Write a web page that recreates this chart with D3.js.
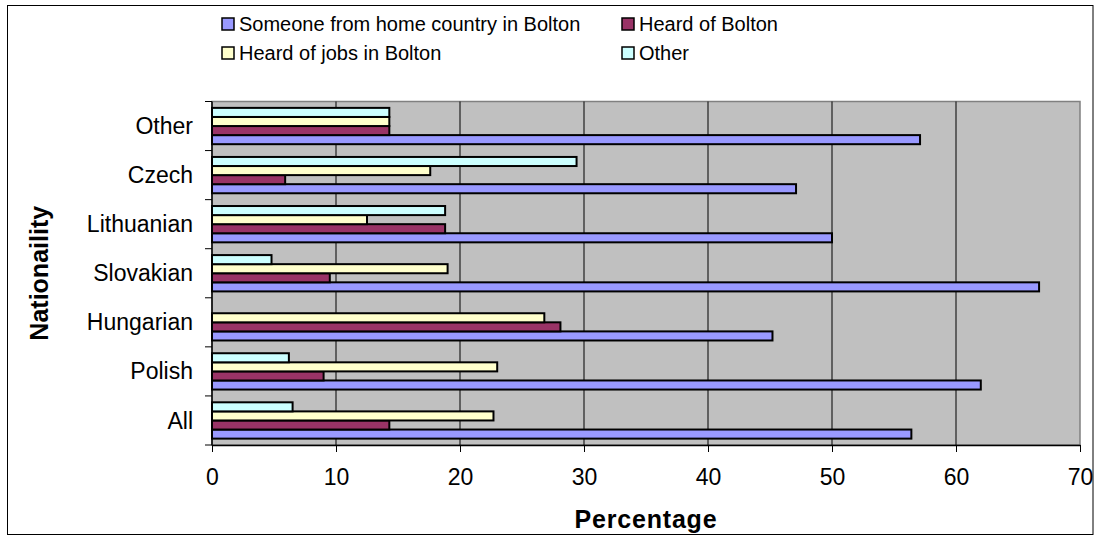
<!DOCTYPE html>
<html>
<head>
<meta charset="utf-8">
<script src="https://cdn.jsdelivr.net/npm/d3@7"></script>
<style>
  html, body { margin: 0; padding: 0; background: #fff; }
  svg { display: block; font-family: "Liberation Sans", Arial, sans-serif; }
</style>
</head>
<body>
<svg id="chart" width="1096" height="536"></svg>
<script>
// Nationalities, listed bottom to top
const categories = ["All", "Polish", "Hungarian", "Slovakian", "Lithuanian", "Czech", "Other"];

// Reasons for coming to Bolton (percentage of respondents)
const seriesNames = ["Someone from home country in Bolton", "Heard of Bolton", "Heard of jobs in Bolton", "Other"];
const someoneFromHome = [56.4, 62.0, 45.2, 66.7, 50.0, 47.1, 57.1];
const heardOfBolton   = [14.3, 9.0, 28.1, 9.5, 18.8, 5.9, 14.3];
const heardOfJobs     = [22.7, 23.0, 26.8, 19.0, 12.5, 17.6, 14.3];
const otherReason     = [6.5, 6.2, 0, 4.8, 18.8, 29.4, 14.3];
const seriesValues = [someoneFromHome, heardOfBolton, heardOfJobs, otherReason];
const seriesColors = ["#9999FF", "#993366", "#FFFFCC", "#CCFFFF"];

const xTicks = [0, 10, 20, 30, 40, 50, 60, 70];

const svg = d3.select("#chart");
const W = 1096, H = 536;
const plot = { left: 212, right: 1080, top: 101.5, bottom: 445 };
const labelFont = 23;
const legendFont = 20;
const titleFont = 25;

// outer chart frame
svg.append("rect")
  .attr("x", 7.5).attr("y", 5.5).attr("width", 1093 - 7.5).attr("height", H - 7)
  .attr("fill", "#fff").attr("stroke", "#000").attr("stroke-width", 1);

const x = d3.scaleLinear().domain([0, 70]).range([plot.left, plot.right]);

// categories run bottom to top
const y = d3.scaleBand().domain(categories)
  .range([plot.bottom, plot.top]).paddingInner(0).paddingOuter(0);

// within a category, the first series sits lowest
const groupFrac = 0.74;
const inner = d3.scaleBand().domain(d3.range(seriesNames.length).reverse())
  .range([y.bandwidth() * (1 - groupFrac) / 2, y.bandwidth() * (1 + groupFrac) / 2]);

// plot area
svg.append("rect")
  .attr("x", plot.left).attr("y", plot.top)
  .attr("width", plot.right - plot.left).attr("height", plot.bottom - plot.top)
  .attr("fill", "#C0C0C0").attr("stroke", "#808080").attr("stroke-width", 1.5);

// vertical gridlines
svg.append("g").selectAll("line")
  .data(xTicks.filter(t => t > 0 && t < 70))
  .join("line")
  .attr("x1", d => x(d)).attr("x2", d => x(d))
  .attr("y1", plot.top).attr("y2", plot.bottom)
  .attr("stroke", "#000").attr("stroke-width", 1);

// bars
const groups = svg.append("g").selectAll("g")
  .data(categories)
  .join("g")
  .attr("transform", c => `translate(0,${y(c)})`);

groups.selectAll("rect")
  .data((c, ci) => seriesValues.map((vals, si) => ({ si, v: vals[ci] })).filter(d => d.v > 0))
  .join("rect")
  .attr("x", x(0))
  .attr("y", d => inner(d.si))
  .attr("width", d => x(d.v) - x(0))
  .attr("height", inner.bandwidth())
  .attr("fill", d => seriesColors[d.si])
  .attr("stroke", "#000").attr("stroke-width", 2);

// x axis
const xAxis = svg.append("g")
  .attr("transform", `translate(0,${plot.bottom})`)
  .call(d3.axisBottom(x).tickValues(xTicks).tickSize(7).tickSizeOuter(0).tickPadding(17));
xAxis.select(".domain").attr("stroke", "#000").attr("stroke-width", 1.5);
xAxis.selectAll(".tick line").attr("stroke", "#000");
xAxis.selectAll("text").attr("font-size", labelFont).attr("fill", "#000")
  .attr("font-family", "Liberation Sans, Arial, sans-serif");

// y axis: ticks sit on category boundaries
const yAxisG = svg.append("g").attr("transform", `translate(${plot.left},0)`);
yAxisG.append("line")
  .attr("x1", 0).attr("x2", 0).attr("y1", plot.top).attr("y2", plot.bottom)
  .attr("stroke", "#000").attr("stroke-width", 1.5);
const boundaries = categories.map(c => y(c)).concat([plot.bottom]);
yAxisG.selectAll("line.tick")
  .data(boundaries)
  .join("line").attr("class", "tick")
  .attr("x1", -7).attr("x2", 0).attr("y1", d => d).attr("y2", d => d)
  .attr("stroke", "#000").attr("stroke-width", 1);
yAxisG.selectAll("text")
  .data(categories)
  .join("text")
  .attr("x", -19).attr("y", c => y(c) + y.bandwidth() / 2)
  .attr("dy", "0.35em").attr("text-anchor", "end")
  .attr("font-size", labelFont).attr("fill", "#000")
  .text(c => c);

// axis titles
svg.append("text")
  .attr("x", (plot.left + plot.right) / 2).attr("y", 519).attr("dy", "0.35em")
  .attr("text-anchor", "middle").attr("font-size", titleFont).attr("font-weight", "bold")
  .attr("letter-spacing", 0.8)
  .text("Percentage");
svg.append("text")
  .attr("transform", `translate(39,${(plot.top + plot.bottom) / 2}) rotate(-90)`)
  .attr("dy", "0.35em")
  .attr("text-anchor", "middle").attr("font-size", titleFont).attr("font-weight", "bold")
  .text("Nationaility");

// legend, two columns by two rows
const legendPos = [
  { x: 222, y: 24 }, { x: 622, y: 24 },
  { x: 222, y: 53 }, { x: 622, y: 53 }
];
const legend = svg.append("g").selectAll("g")
  .data(seriesNames)
  .join("g")
  .attr("transform", (d, i) => `translate(${legendPos[i].x},${legendPos[i].y})`);
legend.append("rect")
  .attr("x", 0).attr("y", -6).attr("width", 12).attr("height", 12)
  .attr("fill", (d, i) => seriesColors[i]).attr("stroke", "#000").attr("stroke-width", 1.5);
legend.append("text")
  .attr("x", 17).attr("y", 0).attr("dy", "0.35em")
  .attr("font-size", legendFont).attr("fill", "#000")
  .text(d => d);
</script>
</body>
</html>
